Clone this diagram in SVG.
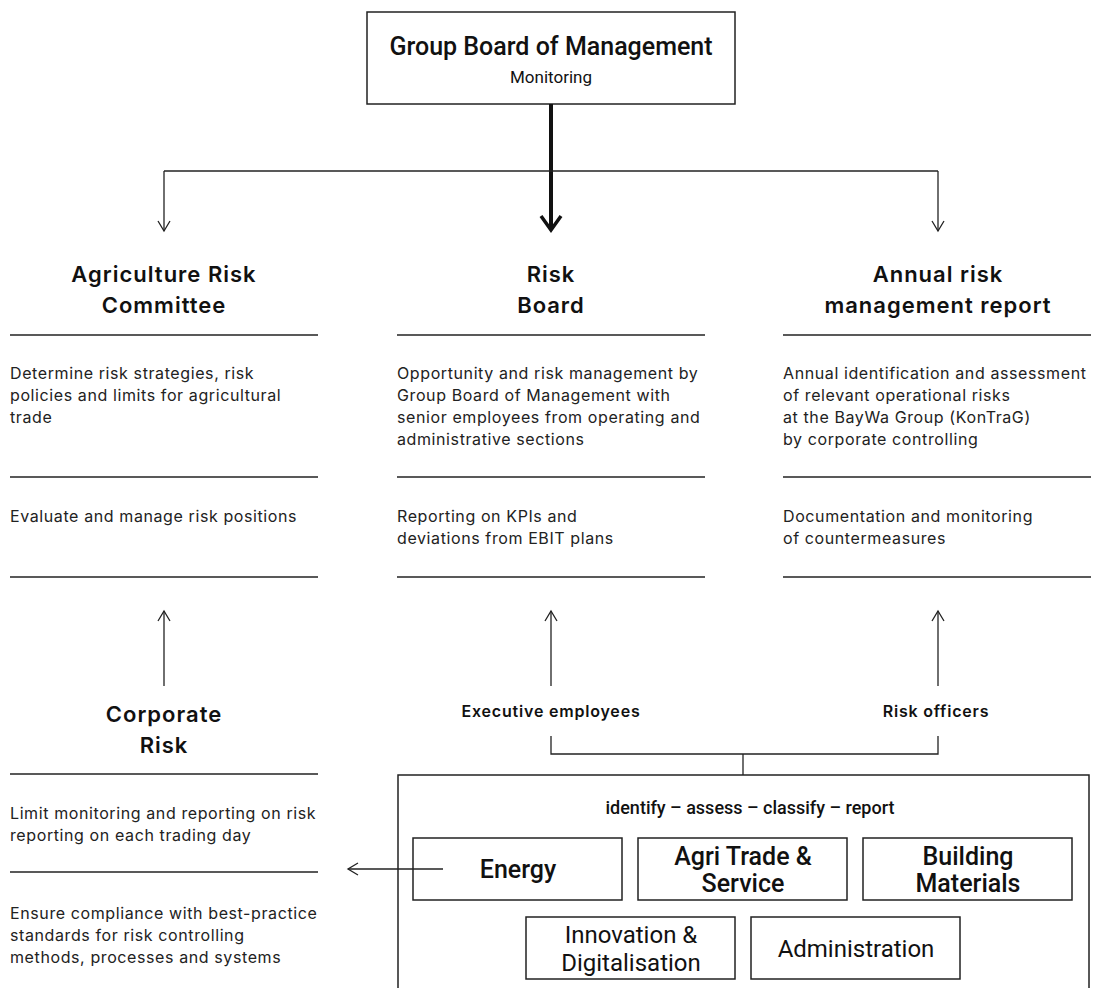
<svg xmlns="http://www.w3.org/2000/svg" width="1097" height="988" viewBox="0 0 1097 988">
<style>
.bg{fill:#fff}
.box{fill:#fff;stroke:#222;stroke-width:1.5}
.rule{stroke:#222;stroke-width:1.5;fill:none}
.con{stroke:#222;stroke-width:1.3;fill:none}
.thick{stroke:#111;stroke-width:4;fill:none}
.hd{font-family:Inter,"Noto Sans",sans-serif;font-weight:600;font-size:22px;letter-spacing:1px;fill:#111;text-anchor:middle}
.bd{font-family:Inter,"Noto Sans",sans-serif;font-size:16px;letter-spacing:0.6px;fill:#222}
.lb{font-family:Inter,"Noto Sans",sans-serif;font-weight:600;font-size:16px;letter-spacing:0.8px;fill:#111;text-anchor:middle}
.bx{font-family:Roboto,"Liberation Sans",sans-serif;font-size:24px;fill:#111;text-anchor:middle}
.bxb{font-family:Roboto,"Liberation Sans",sans-serif;font-weight:500;font-size:25px;fill:#111;text-anchor:middle}
.sm{font-family:Roboto,"Liberation Sans",sans-serif;font-size:17px;fill:#111;text-anchor:middle}
.smb{font-family:Roboto,"Liberation Sans",sans-serif;font-weight:500;font-size:18px;fill:#111;text-anchor:middle}
</style>
<defs>
<marker id="open" viewBox="0 0 14 14" refX="12" refY="7" markerWidth="14" markerHeight="14" markerUnits="userSpaceOnUse" orient="auto">
<path d="M2,1 L12,7 L2,13" fill="none" stroke="#222" stroke-width="1.3"/>
</marker>
<marker id="bold" viewBox="0 0 20 24" refX="17" refY="12" markerWidth="20" markerHeight="24" markerUnits="userSpaceOnUse" orient="auto">
<path d="M3,2 L17,12 L3,22" fill="none" stroke="#111" stroke-width="3.5"/>
</marker>
</defs>
<rect class="bg" x="0" y="0" width="1097" height="988"/>

<g id="group-board">
<rect class="box" x="367" y="12" width="368" height="92"/>
<text class="bxb" x="551" y="55" font-size="24">Group Board of Management</text>
<text class="sm" x="551" y="83">Monitoring</text>
</g>

<g id="agri-committee">
<text class="hd" x="164" y="282">Agriculture Risk</text>
<text class="hd" x="164" y="313">Committee</text>
<line class="rule" x1="10" y1="335" x2="318" y2="335"/>
<text class="bd" x="10" y="379">Determine risk strategies, risk</text>
<text class="bd" x="10" y="401">policies and limits for agricultural</text>
<text class="bd" x="10" y="423">trade</text>
<line class="rule" x1="10" y1="477" x2="318" y2="477"/>
<text class="bd" x="10" y="522">Evaluate and manage risk positions</text>
<line class="rule" x1="10" y1="577" x2="318" y2="577"/>
</g>

<g id="risk-board">
<text class="hd" x="551" y="282">Risk</text>
<text class="hd" x="551" y="313">Board</text>
<line class="rule" x1="397" y1="335" x2="705" y2="335"/>
<text class="bd" x="397" y="379">Opportunity and risk management by</text>
<text class="bd" x="397" y="401">Group Board of Management with</text>
<text class="bd" x="397" y="423">senior employees from operating and</text>
<text class="bd" x="397" y="445">administrative sections</text>
<line class="rule" x1="397" y1="477" x2="705" y2="477"/>
<text class="bd" x="397" y="522">Reporting on KPIs and</text>
<text class="bd" x="397" y="544">deviations from EBIT plans</text>
<line class="rule" x1="397" y1="577" x2="705" y2="577"/>
</g>

<g id="annual-report">
<text class="hd" x="938" y="282">Annual risk</text>
<text class="hd" x="938" y="313">management report</text>
<line class="rule" x1="783" y1="335" x2="1091" y2="335"/>
<text class="bd" x="783" y="379">Annual identification and assessment</text>
<text class="bd" x="783" y="401">of relevant operational risks</text>
<text class="bd" x="783" y="423">at the BayWa Group (KonTraG)</text>
<text class="bd" x="783" y="445">by corporate controlling</text>
<line class="rule" x1="783" y1="477" x2="1091" y2="477"/>
<text class="bd" x="783" y="522">Documentation and monitoring</text>
<text class="bd" x="783" y="544">of countermeasures</text>
<line class="rule" x1="783" y1="577" x2="1091" y2="577"/>
</g>

<g id="corporate-risk">
<text class="hd" x="164" y="722">Corporate</text>
<text class="hd" x="164" y="753">Risk</text>
<line class="rule" x1="10" y1="774" x2="318" y2="774"/>
<text class="bd" x="10" y="819">Limit monitoring and reporting on risk</text>
<text class="bd" x="10" y="841">reporting on each trading day</text>
<line class="rule" x1="10" y1="872" x2="318" y2="872"/>
<text class="bd" x="10" y="919">Ensure compliance with best-practice</text>
<text class="bd" x="10" y="941">standards for risk controlling</text>
<text class="bd" x="10" y="963">methods, processes and systems</text>
</g>

<g id="executive-employees">
<text class="lb" x="551" y="717">Executive employees</text>
</g>
<g id="risk-officers">
<text class="lb" x="936" y="717">Risk officers</text>
</g>

<g id="divisions">
<rect class="box" x="398" y="775" width="691" height="230"/>
<text class="smb" x="750" y="814">identify – assess – classify – report</text>
<g id="energy">
<rect class="box" x="413" y="838" width="209" height="62"/>
<text class="bxb" x="518" y="878">Energy</text>
</g>
<g id="agri-trade">
<rect class="box" x="638" y="838" width="209" height="62"/>
<text class="bxb" x="743" y="865">Agri Trade &amp;</text>
<text class="bxb" x="743" y="892">Service</text>
</g>
<g id="building">
<rect class="box" x="863" y="838" width="209" height="62"/>
<text class="bxb" x="968" y="865">Building</text>
<text class="bxb" x="968" y="892">Materials</text>
</g>
<g id="innovation">
<rect class="box" x="526" y="917" width="209" height="62"/>
<text class="bx" x="631" y="943">Innovation &amp;</text>
<text class="bx" x="631" y="971">Digitalisation</text>
</g>
<g id="administration">
<rect class="box" x="751" y="917" width="209" height="62"/>
<text class="bx" x="856" y="957">Administration</text>
</g>
</g>

<g id="connectors">
<path class="thick" d="M551,104 L551,230" marker-end="url(#bold)"/>
<path class="con" d="M164,171 L938,171"/>
<path class="con" d="M164,171 L164,231" marker-end="url(#open)"/>
<path class="con" d="M938,171 L938,231" marker-end="url(#open)"/>
<path class="con" d="M164,686 L164,611" marker-end="url(#open)"/>
<path class="con" d="M551,686 L551,611" marker-end="url(#open)"/>
<path class="con" d="M938,686 L938,611" marker-end="url(#open)"/>
<path class="con" d="M551,736 L551,754 L938,754 L938,736"/>
<path class="con" d="M743,754 L743,775"/>
<path class="con" d="M443,869 L348,869" marker-end="url(#open)"/>
</g>
</svg>
